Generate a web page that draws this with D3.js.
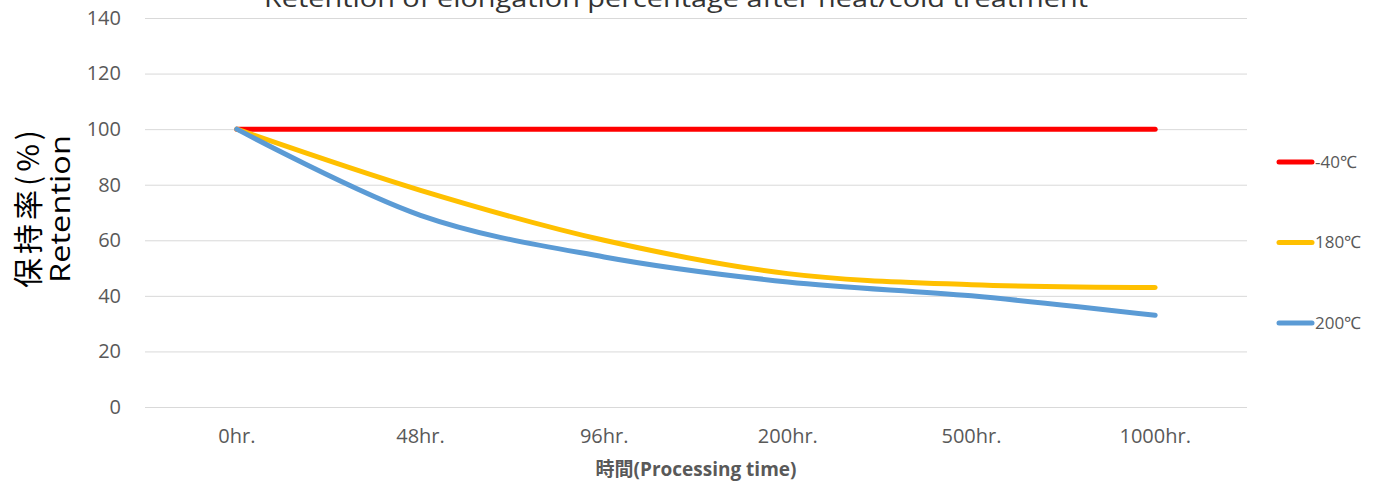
<!DOCTYPE html>
<html>
<head>
<meta charset="utf-8">
<script src="https://cdn.jsdelivr.net/npm/d3@7"></script>
<style>
  body { margin: 0; background: #fff; }
  svg { display: block; }
</style>
</head>
<body>
<div class="chart"></div>
<script>
'use strict';
(function() {
  // Data
  var categories = ['0hr.', '48hr.', '96hr.', '200hr.', '500hr.', '1000hr.'];
  var seriesNames = ['-40℃', '180℃', '200℃'];
  var minus40 = [100, 100, 100, 100, 100, 100];
  var c180 = [100, 78, 60, 48, 44, 43];
  var c200 = [100, 69, 54, 45, 40, 33];
  var yTicks = [0, 20, 40, 60, 80, 100, 120, 140];

  var COLORS = ['#ff0000', '#ffc000', '#5b9bd5'];

  var w = 1385;
  var h = 484;
  var left = 145, right = 1247, top = 18, bottom = 407;

  var svg = d3.select('.chart')
    .append('svg')
    .attr('width', w)
    .attr('height', h);

  var x = d3.scaleBand()
    .domain(categories)
    .range([left, right]);

  var y = d3.scaleLinear()
    .domain([0, 140])
    .range([bottom, top]);

  // Gridlines + y labels
  var yAxis = d3.axisLeft(y)
    .tickValues(yTicks)
    .tickSizeInner(-(right - left))
    .tickSizeOuter(0)
    .tickPadding(24);

  var gy = svg.append('g')
    .attr('transform', 'translate(' + left + ',0)')
    .call(yAxis);
  gy.select('.domain').remove();
  gy.selectAll('.tick line').attr('stroke', '#d9d9d9').attr('stroke-width', 1);
  gy.selectAll('.tick text')
    .attr('fill', '#595959')
    .style('font-family', '"Open Sans", sans-serif')
    .style('font-size', '20px');

  // x labels
  var xAxis = d3.axisBottom(x).tickSize(0).tickPadding(22);
  var gx = svg.append('g')
    .attr('transform', 'translate(0,' + bottom + ')')
    .call(xAxis);
  gx.select('.domain').remove();
  gx.selectAll('.tick text')
    .attr('fill', '#595959')
    .style('font-family', '"Open Sans", sans-serif')
    .style('font-size', '20px');

  // Lines
  var dataset = [minus40, c180, c200];
  var line = d3.line()
    .x(function(d, i) { return x(categories[i]) + x.bandwidth() / 2; })
    .y(function(d) { return y(d); })
    .curve(d3.curveCatmullRom.alpha(0));

  svg.append('g')
    .selectAll('path')
    .data(dataset)
    .enter()
    .append('path')
    .attr('d', line)
    .attr('fill', 'none')
    .attr('stroke', function(d, i) { return COLORS[i]; })
    .attr('stroke-width', 5)
    .attr('stroke-linecap', 'round')
    .attr('stroke-linejoin', 'round');

  // Legend
  var legend = svg.append('g')
    .selectAll('g')
    .data(seriesNames)
    .enter()
    .append('g')
    .attr('transform', function(d, i) { return 'translate(1279,' + (162 + i * 80.5) + ')'; });

  legend.append('line')
    .attr('x1', 0).attr('x2', 33)
    .attr('stroke', function(d, i) { return COLORS[i]; })
    .attr('stroke-width', 5)
    .attr('stroke-linecap', 'round');

  legend.append('text')
    .attr('x', 36)
    .attr('dy', '0.35em')
    .attr('fill', '#595959')
    .style('font-family', '"Open Sans", sans-serif')
    .style('font-size', '17px')
    .text(function(d) { return d; });

  // Title (partly above the top edge, as in the original)
  svg.append('text')
    .attr('x', 676)
    .attr('y', 7)
    .attr('text-anchor', 'middle')
    .attr('fill', '#333')
    .attr('textLength', 824)
    .attr('lengthAdjust', 'spacingAndGlyphs')
    .style('font-family', '"Open Sans", sans-serif')
    .style('font-size', '23px')
    .text('Retention of elongation percentage after heat/cold treatment');

  // X axis title
  svg.append('text')
    .attr('x', (left + right) / 2)
    .attr('y', 476)
    .attr('text-anchor', 'middle')
    .attr('fill', '#595959')
    .style('font-family', '"Open Sans", "Noto Sans CJK JP", sans-serif')
    .style('font-size', '19px')
    .style('font-weight', 'bold')
    .text('時間(Processing time)');

  // Y axis title
  var yt = svg.append('text')
    .attr('transform', 'translate(0,209) rotate(-90)')
    .attr('text-anchor', 'middle')
    .attr('fill', '#000');
  yt.append('tspan')
    .attr('x', 0)
    .attr('y', 39)
    .attr('textLength', 158)
    .attr('lengthAdjust', 'spacing')
    .style('font-family', '"Noto Sans CJK JP", sans-serif')
    .style('font-size', '30px')
    .text('保持率(%)');
  yt.append('tspan')
    .attr('x', 0)
    .attr('y', 70)
    .attr('textLength', 148)
    .attr('lengthAdjust', 'spacingAndGlyphs')
    .style('font-family', '"Open Sans", sans-serif')
    .style('font-size', '27px')
    .text('Retention');
})();
</script>
</body>
</html>
